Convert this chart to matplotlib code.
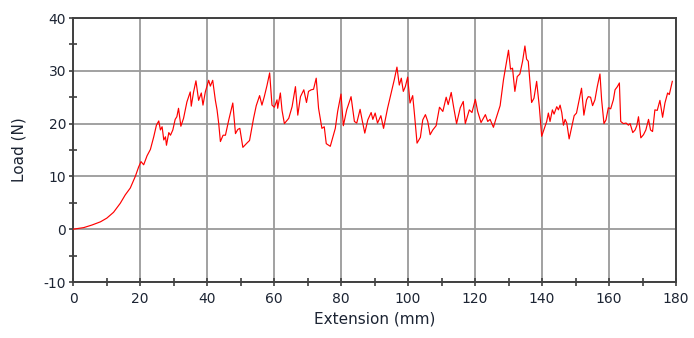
import matplotlib
matplotlib.use("Agg")
import matplotlib.pyplot as plt
from matplotlib.ticker import MultipleLocator

plt.rcParams["axes.unicode_minus"] = False

extension_mm = [
    0.0, 3.2, 5.7, 8.2, 10.1, 12.1, 14.1, 15.6, 17.1, 18.6, 19.6, 20.3, 21.1, 22.1, 23.1,
    24.1, 24.9, 25.6, 26.1, 26.6, 27.1, 27.6, 27.9, 28.6, 29.1, 29.8, 30.5, 31.0, 31.5,
    32.2, 33.0, 34.0, 35.0, 35.3, 36.0, 36.7, 37.5, 38.3, 38.8, 39.5, 40.5, 41.0, 41.7,
    42.5, 43.0, 43.5, 44.0, 44.8, 45.5, 46.5, 47.7, 48.5, 49.2, 49.8, 50.7, 51.9, 52.7,
    53.9, 54.7, 55.7, 56.4, 57.1, 57.9, 58.7, 59.4, 60.1, 60.9, 61.1, 61.9, 62.4, 63.1,
    64.4, 65.4, 66.4, 67.1, 67.9, 68.9, 69.7, 70.3, 71.1, 71.8, 72.6, 73.3, 74.3, 75.0,
    75.6, 76.8, 78.3, 79.0, 80.0, 80.7, 81.7, 83.0, 84.0, 84.7, 85.7, 86.3, 87.1, 88.0,
    89.0, 89.5, 90.2, 90.9, 91.9, 92.7, 93.9, 95.2, 95.9, 96.7, 97.4, 98.0, 98.6, 99.2,
    99.9, 100.6, 101.4, 101.9, 102.7, 103.7, 104.4, 105.2, 105.9, 106.6, 107.4, 108.4,
    109.4, 110.4, 111.4, 112.0, 112.9, 113.6, 114.5, 115.6, 116.5, 117.1, 118.3, 119.1,
    120.1, 120.8, 121.8, 123.1, 123.8, 124.5, 125.5, 126.3, 127.5, 128.5, 130.0, 130.6,
    131.2, 131.9, 132.6, 133.4, 134.2, 134.9, 135.4, 135.9, 136.9, 137.6, 138.4, 139.2,
    139.9, 140.6, 141.4, 141.9, 142.4, 143.1, 143.6, 144.4, 144.9, 145.4, 145.9, 146.4,
    146.9, 147.4, 148.1, 148.9, 149.6, 150.3, 151.1, 151.8, 152.5, 153.3, 153.8, 154.5,
    155.1, 155.8, 156.5, 157.3, 157.8, 158.5, 159.1, 159.8, 160.5, 161.3, 161.8, 162.5,
    163.1, 163.5, 164.3, 165.1, 165.8, 166.3, 167.1, 167.8, 168.3, 168.8, 169.5, 170.3,
    171.0, 171.8, 172.4, 173.0, 173.7, 174.4, 175.2, 176.0, 176.7, 177.5, 178.0, 178.9,
]

load_n = [
    0.0, 0.3, 0.8, 1.4, 2.1, 3.2, 4.9, 6.5, 7.8, 10.0, 11.8, 12.8, 12.2, 13.9, 15.1,
    17.5, 19.7, 20.5, 18.8, 19.4, 16.9, 17.5, 15.9, 18.3, 17.8, 18.8, 20.8, 21.3, 22.9,
    19.5, 21.0, 24.1, 26.0, 23.3, 26.0, 28.1, 24.4, 25.8, 23.5, 26.0, 28.2, 27.1, 28.2,
    24.4, 22.6, 20.0, 16.6, 17.8, 17.8, 20.7, 23.9, 18.1, 18.9, 19.1, 15.5, 16.3, 16.8,
    21.0, 23.4, 25.3, 23.5, 25.1, 27.2, 29.6, 23.5, 23.1, 24.5, 22.9, 25.8, 22.5, 20.0,
    21.0, 23.2, 27.0, 21.6, 25.1, 26.4, 24.0, 26.1, 26.4, 26.5, 28.6, 22.9, 19.1, 19.4,
    16.2, 15.7, 19.1, 22.3, 25.6, 19.6, 22.6, 25.1, 20.4, 20.1, 22.7, 20.7, 18.2, 20.7,
    22.1, 20.8, 22.0, 20.1, 21.5, 19.1, 22.9, 26.4, 28.3, 30.7, 27.3, 28.6, 26.1, 27.0,
    28.8, 23.9, 25.3, 22.0, 16.3, 17.4, 20.7, 21.7, 20.4, 17.9, 18.8, 19.6,
    23.1, 22.3, 25.0, 23.6, 25.9, 23.2, 20.0, 23.0, 24.2, 20.0, 22.6, 22.1,
    24.6, 22.3, 20.2, 21.7, 20.4, 20.8, 19.3, 21.0, 23.4, 28.3, 33.9, 30.3,
    30.5, 26.1, 28.9, 29.4, 31.8, 34.7, 32.2, 31.8, 24.0, 24.8, 28.0, 23.2,
    17.6, 18.9, 20.4, 22.0, 20.4, 22.6, 21.8, 23.2, 22.6, 23.5, 22.1, 19.7,
    20.8, 20.1, 17.1, 19.4, 21.5, 22.0, 24.5, 26.7, 21.6, 24.5, 25.1, 25.0,
    23.4, 24.5, 27.0, 29.4, 24.5, 20.0, 20.7, 23.0, 22.8, 24.5, 26.4, 27.0,
    27.7, 20.4, 20.0, 20.1, 19.7, 20.0, 18.3, 18.8, 19.6, 21.3, 17.3, 17.9,
    18.8, 20.8, 18.8, 18.5, 22.6, 22.5, 24.4, 21.2, 23.9, 25.8, 25.5, 28.0,
]

x_ticks = [0, 20, 40, 60, 80, 100, 120, 140, 160, 180]
y_ticks = [-10, 0, 10, 20, 30, 40]
x_label = "Extension (mm)"
y_label = "Load (N)"

text_color = "#1c2433"
spine_color = "#404040"
grid_color = "#9a9a9a"

fig = plt.figure(figsize=(6.94, 3.38), dpi=100)
ax = fig.add_axes([73 / 694, 1 - 282 / 338, (676 - 73) / 694, (282 - 18) / 338])

ax.plot(extension_mm, load_n, color="#ff0000", linewidth=0.85, zorder=3)

ax.set_xlim(0, 180)
ax.set_ylim(-10, 40)
ax.set_xticks(x_ticks)
ax.set_yticks(y_ticks)
ax.xaxis.set_minor_locator(MultipleLocator(10))
ax.yaxis.set_minor_locator(MultipleLocator(5))

ax.grid(True, which="major", color=grid_color, linewidth=1.3, zorder=0)
for s in ax.spines.values():
    s.set_color(spine_color)
    s.set_linewidth(1.4)

ax.tick_params(axis="both", which="major", direction="out", length=3, width=1.2,
               color=spine_color, labelsize=10, labelcolor=text_color, pad=2)
ax.tick_params(axis="both", which="minor", direction="inout", length=6, width=1.2,
               color=spine_color)
ax.tick_params(axis="x", which="major", direction="inout", length=6, pad=4)

ax.set_xlabel(x_label, fontsize=11, color=text_color, labelpad=4)
ax.set_ylabel(y_label, fontsize=11, color=text_color, labelpad=12)

fig.savefig("out.png", dpi=100)
